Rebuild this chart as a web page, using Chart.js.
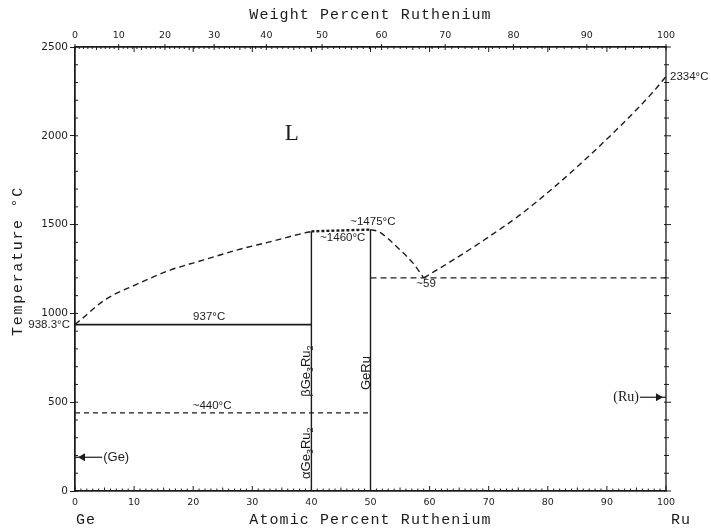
<!DOCTYPE html>
<html>
<head>
<meta charset="utf-8">
<script src="https://cdn.jsdelivr.net/npm/chart.js@4.4.1/dist/chart.umd.min.js"></script>
<style>
body{margin:0;background:#fff;}
canvas{display:block;}
</style>
</head>
<body>
<canvas id="myChart" width="711" height="530"></canvas>
<script>
///////// data : x = atomic % Ru, y = temperature degC ////////
var liqGeX=[0,1,5,10.6,16.2,21.8,27.5,33.1,38.7,40];
var liqGeT=[938.3,965,1075,1166,1245,1301,1358,1404,1452,1461];
var topX=[40,50];
var topT=[1462,1472];
var liqMidX=[50,51.5,53,55,57.2,59];
var liqMidT=[1472,1458,1420,1358,1283,1200];
var liqRuX=[59,64,69.7,75.3,80.9,86.6,92.2,97.9,100];
var liqRuT=[1200,1301,1424,1555,1706,1875,2053,2250,2334];
var line937X=[0,40], line937T=[937,937];
var line440X=[0,50], line440T=[440,440];
var eutX=[50,100], eutT=[1200,1200];
var vert40X=[40,40], vert40T=[0,1461];
var vert50X=[50,50], vert50T=[0,1472];
var geArrowX=[4.6,1.3,0], geArrowT=[190,190,190];
var ruArrowX=[95.6,98.7,100], ruArrowT=[528,528,528];
///////// tick labels ////////
var atTicks=[0,10,20,30,40,50,60,70,80,90,100];
var wtTicks=[0,10,20,30,40,50,60,70,80,90,100];
var tempTicks=[0,500,1000,1500,2000,2500];

const M_GE=72.61, M_RU=101.07;
function wtToAt(w){// weight % Ru -> atomic % Ru
  const nRu=w/M_RU, nGe=(100-w)/M_GE;
  return 100*nRu/(nRu+nGe);
}
function pts(X,Y){
  return X.map((x,i)=>({x:x,y:Y[i]}));
}

const INK='#1c1c1c';
function lineSet(X,Y,dash,width,smooth){
  return {data:pts(X,Y),showLine:true,borderColor:INK,borderWidth:width||1.4,
    borderDash:dash||[],pointRadius:0,cubicInterpolationMode:smooth?'monotone':'default',
    tension:0,clip:false};
}
function arrowSet(X,Y,rot){
  return {data:pts(X,Y),showLine:true,borderColor:INK,borderWidth:1.2,
    pointRadius:[0,3.5,0],pointStyle:'triangle',rotation:rot,
    pointBackgroundColor:INK,pointBorderColor:INK,clip:false};
}

///////// text placed on the diagram ////////
var notes=[
  {t:'L',x:36.7,y:2010,font:'23px "Liberation Serif"',align:'center'},
  {t:'937°C',x:22.7,y:937,dy:-7.5,align:'center'},
  {t:'~440°C',x:23.2,y:440,dy:-7,align:'center'},
  {t:'938.3°C',x:0,y:938.3,dx:-5,align:'right'},
  {t:'~1475°C',x:50.4,y:1475,dy:-7,align:'center'},
  {t:'~1460°C',x:45.3,y:1460,dy:6.5,align:'center'},
  {t:'~59',x:59.4,y:1200,dy:6,align:'center'},
  {t:'2334°C',x:100,y:2334,dx:4,align:'left'},
  {t:'(Ge)',x:4.6,y:190,dx:1,align:'left',font:'13px "Liberation Sans"'},
  {t:'(Ru)',x:95.6,y:528,dx:-1,align:'right',font:'14px "Liberation Serif"'}
];
var chems=[
  {parts:[['β',0],['Ge',0],['3',1],['Ru',0],['2',1]],x:39.1,y:675},
  {parts:[['α',0],['Ge',0],['3',1],['Ru',0],['2',1]],x:39.1,y:213},
  {parts:[['GeRu',0]],x:49.3,y:664}
];

function drawChem(ctx,parts,px,py){
  const big='13px "Liberation Sans"', small='9px "Liberation Sans"';
  var w=0;
  parts.forEach(p=>{ctx.font=p[1]?small:big; w+=ctx.measureText(p[0]).width;});
  ctx.save();
  ctx.translate(px,py);
  ctx.rotate(-Math.PI/2);
  ctx.textBaseline='middle';
  ctx.textAlign='left';
  var cx=-w/2;
  parts.forEach(p=>{
    ctx.font=p[1]?small:big;
    ctx.fillText(p[0],cx,p[1]?4:0);
    cx+=ctx.measureText(p[0]).width;
  });
  ctx.restore();
}

const decor={
  id:'decor',
  afterDraw(chart){
    const ctx=chart.ctx, xs=chart.scales.x, ys=chart.scales.y, a=chart.chartArea;
    ctx.save();
    ctx.strokeStyle=INK;
    ctx.lineWidth=1.3;
    ctx.strokeRect(a.left,a.top,a.right-a.left,a.bottom-a.top);
    ////// small ticks //////
    ctx.lineWidth=1;
    ctx.beginPath();
    for(let t=0;t<=2500;t+=100){
      const py=ys.getPixelForValue(t);
      ctx.moveTo(a.left,py); ctx.lineTo(a.left+3,py);
      const L=(t%500==0)?5:3;
      ctx.moveTo(a.right-2,py); ctx.lineTo(a.right+L,py);
    }
    for(let v=0;v<=100;v++){
      const px=xs.getPixelForValue(v);
      const L=(v%10==0)?5:((v%5==0)?3.5:2.5);
      ctx.moveTo(px,a.bottom); ctx.lineTo(px,a.bottom-L);
    }
    for(let w=0;w<=100;w++){
      const px=xs.getPixelForValue(wtToAt(w));
      const up=(w%10==0)?3:0;
      const L=(w%5==0)?3:2;
      ctx.moveTo(px,a.top-up); ctx.lineTo(px,a.top+L);
    }
    for(let v=10;v<100;v+=10){
      const px=xs.getPixelForValue(v);
      ctx.moveTo(px,a.top); ctx.lineTo(px,a.top+5);
    }
    ctx.stroke();
    ////// labels //////
    ctx.fillStyle=INK;
    ctx.textBaseline='middle';
    notes.forEach(n=>{
      ctx.font=n.font||'11.5px "Liberation Sans"';
      ctx.textAlign=n.align;
      ctx.fillText(n.t,xs.getPixelForValue(n.x)+(n.dx||0),ys.getPixelForValue(n.y)+(n.dy||0));
    });
    chems.forEach(c=>drawChem(ctx,c.parts,xs.getPixelForValue(c.x),ys.getPixelForValue(c.y)));
    ////// axis titles //////
    ctx.font='15px "Liberation Mono"';
    ctx.letterSpacing='1.1px';
    ctx.textAlign='center';
    ctx.fillText('Weight Percent Ruthenium',(a.left+a.right)/2,15);
    ctx.fillText('Atomic Percent Ruthenium',(a.left+a.right)/2,520);
    ctx.fillText('Ge',86,520);
    ctx.fillText('Ru',681,520);
    ctx.letterSpacing='1.7px';
    ctx.translate(18,261);
    ctx.rotate(-Math.PI/2);
    ctx.fillText('Temperature °C',0,0);
    ctx.restore();
  }
};

const tickFont={family:'DejaVu Sans',size:9.5};
const ctxc=document.getElementById('myChart');
const myChart=new Chart(ctxc,{
  type:'scatter',
  data:{datasets:[
    lineSet(liqGeX,liqGeT,[6,4],1.4,true),
    lineSet(topX,topT,[3,2],2.4,false),
    lineSet(liqMidX,liqMidT,[6,4],1.4,true),
    lineSet(liqRuX,liqRuT,[6,4],1.4,true),
    lineSet(line937X,line937T,[],1.8,false),
    lineSet(line440X,line440T,[5,4],1.3,false),
    lineSet(eutX,eutT,[6,4],1.3,false),
    lineSet(vert40X,vert40T,[],1.4,false),
    lineSet(vert50X,vert50T,[],1.4,false),
    arrowSet(geArrowX,geArrowT,270),
    arrowSet(ruArrowX,ruArrowT,90)
  ]},
  options:{
    responsive:false,
    animation:false,
    layout:{padding:{right:45}},
    plugins:{legend:{display:false},tooltip:{enabled:false}},
    scales:{
      x:{type:'linear',position:'bottom',min:0,max:100,
        afterBuildTicks:ax=>{ax.ticks=atTicks.map(v=>({value:v}));},
        ticks:{autoSkip:false,maxRotation:0,padding:6,color:INK,font:tickFont,
          callback:(v,i)=>String(atTicks[i])},
        grid:{drawOnChartArea:false,drawTicks:false},
        border:{display:true,color:INK,width:1.3},
        afterFit:ax=>{ax.height=39;}},
      x2:{type:'linear',position:'top',min:0,max:100,
        afterBuildTicks:ax=>{ax.ticks=wtTicks.map(w=>({value:wtToAt(w)}));},
        ticks:{autoSkip:false,maxRotation:0,padding:6,color:INK,font:tickFont,
          callback:(v,i)=>String(wtTicks[i])},
        grid:{drawOnChartArea:false,drawTicks:false},
        border:{display:true,color:INK,width:1.3},
        afterFit:ax=>{ax.height=47;}},
      y:{type:'linear',position:'left',min:0,max:2500,
        afterBuildTicks:ax=>{ax.ticks=tempTicks.map(v=>({value:v}));},
        ticks:{padding:2,color:INK,font:{family:'DejaVu Sans',size:10.5},
          callback:(v,i)=>String(tempTicks[i])},
        grid:{drawOnChartArea:false,drawTicks:true,tickLength:5,color:INK},
        border:{display:true,color:INK,width:1.3},
        afterFit:ax=>{ax.width=75;}}
    }
  },
  plugins:[decor]
});
</script>
</body>
</html>
